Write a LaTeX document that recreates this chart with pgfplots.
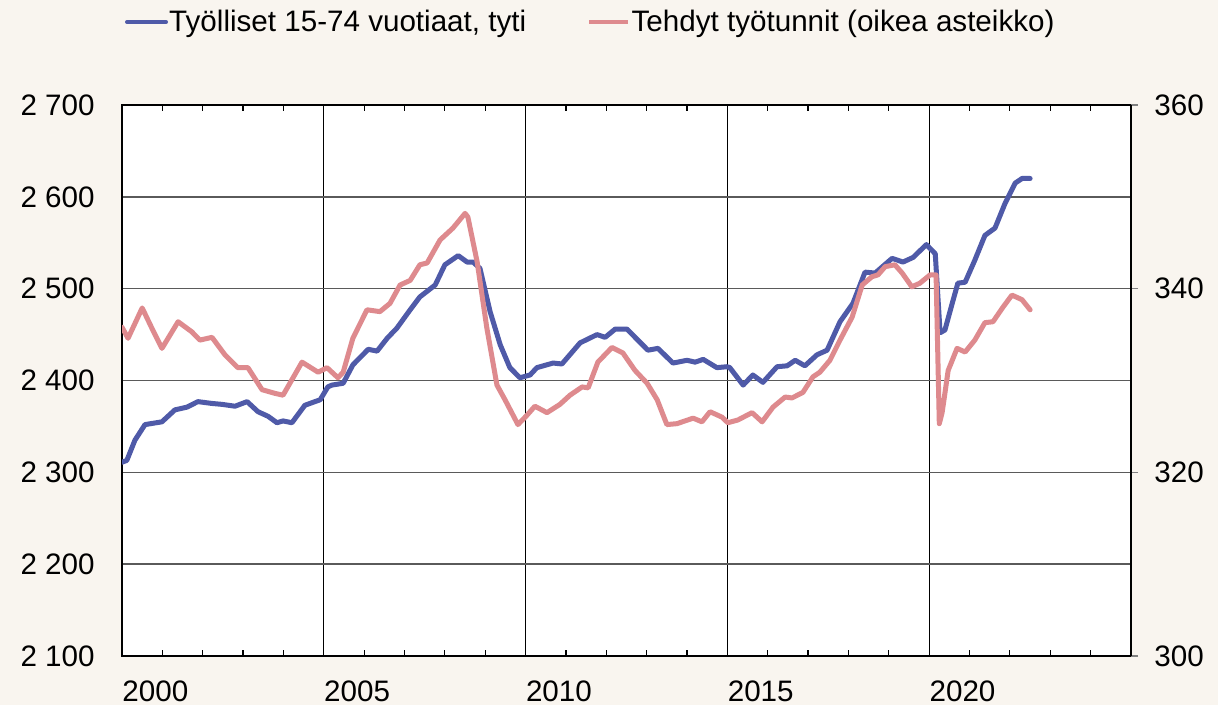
\documentclass[border=0pt]{standalone}
\usepackage{fontspec}
\setmainfont{Liberation Sans}
\usepackage{pgfplots}
\pgfplotsset{compat=1.18}
\definecolor{bgcol}{RGB}{249,245,239}
\definecolor{blueline}{RGB}{79,90,168}
\definecolor{redline}{RGB}{222,138,142}
\definecolor{gridgray}{RGB}{90,90,90}

\pgfplotstableread{
x y
2000.00 2311
2000.12 2313
2000.32 2335
2000.57 2352
2000.99 2355
2001.31 2368
2001.61 2371
2001.88 2377
2002.23 2375
2002.48 2374
2002.80 2372
2003.10 2377
2003.37 2366
2003.62 2361
2003.84 2354
2003.99 2356
2004.21 2354
2004.53 2373
2004.78 2377
2004.91 2379
2005.10 2393
2005.20 2395
2005.48 2397
2005.72 2417
2006.10 2434
2006.32 2432
2006.57 2446
2006.81 2457
2007.14 2477
2007.38 2491
2007.76 2504
2008.00 2526
2008.33 2536
2008.55 2529
2008.70 2529
2008.87 2522
2009.12 2475
2009.37 2439
2009.61 2414
2009.86 2403
2010.11 2406
2010.28 2414
2010.68 2419
2010.90 2418
2011.35 2441
2011.77 2450
2011.97 2447
2012.22 2456
2012.51 2456
2013.03 2433
2013.28 2435
2013.65 2419
2014.00 2422
2014.20 2420
2014.40 2423
2014.74 2414
2014.99 2415
2015.06 2414
2015.39 2395
2015.63 2406
2015.88 2398
2016.23 2415
2016.48 2416
2016.68 2422
2016.92 2416
2017.22 2428
2017.47 2433
2017.79 2464
2018.11 2484
2018.41 2518
2018.66 2517
2019.08 2533
2019.35 2529
2019.60 2534
2019.93 2548
2020.15 2538
2020.27 2452
2020.39 2455
2020.57 2484
2020.71 2506
2020.89 2507
2021.13 2531
2021.38 2558
2021.63 2566
2021.88 2593
2022.13 2615
2022.30 2620
2022.50 2620
}\tyti

\pgfplotstableread{
x y
2000.00 335.8
2000.15 334.6
2000.50 337.9
2000.74 335.7
2000.99 333.5
2001.39 336.4
2001.73 335.3
2001.93 334.4
2002.23 334.7
2002.55 332.8
2002.87 331.4
2003.12 331.4
2003.47 329.0
2003.79 328.6
2003.99 328.4
2004.46 332.0
2004.86 330.9
2005.08 331.4
2005.35 330.3
2005.48 330.9
2005.72 334.6
2006.07 337.7
2006.39 337.5
2006.64 338.4
2006.89 340.4
2007.14 340.9
2007.38 342.6
2007.56 342.8
2007.88 345.3
2008.20 346.6
2008.50 348.2
2008.57 347.8
2008.80 342.9
2009.04 335.7
2009.29 329.5
2009.49 327.9
2009.81 325.2
2010.03 326.2
2010.23 327.2
2010.53 326.5
2010.85 327.4
2011.10 328.4
2011.40 329.3
2011.55 329.2
2011.79 332.0
2012.14 333.6
2012.41 333.0
2012.71 331.1
2013.01 329.7
2013.26 327.9
2013.50 325.2
2013.75 325.3
2014.15 325.9
2014.37 325.5
2014.57 326.6
2014.87 326.0
2015.01 325.4
2015.26 325.7
2015.61 326.5
2015.86 325.5
2016.13 327.1
2016.43 328.2
2016.60 328.1
2016.87 328.7
2017.12 330.4
2017.29 330.9
2017.54 332.2
2017.79 334.4
2018.09 336.9
2018.34 340.4
2018.58 341.3
2018.73 341.5
2018.91 342.4
2019.15 342.6
2019.33 341.7
2019.57 340.2
2019.77 340.6
2020.02 341.5
2020.17 341.5
2020.25 325.3
2020.32 326.5
2020.47 331.1
2020.69 333.5
2020.89 333.1
2021.13 334.4
2021.38 336.3
2021.58 336.4
2021.83 338.0
2022.05 339.3
2022.30 338.8
2022.50 337.7
}\tunnit

\begin{document}
\begin{tikzpicture}[font=\fontsize{14.8}{17.5}\selectfont]
\fill[bgcol] (-61pt,-24.5pt) rectangle (548pt,328pt);
\useasboundingbox (-61pt,-24.5pt) rectangle (548pt,328pt);
\begin{axis}[
  scale only axis, width=504.5pt, height=275.5pt,
  xmin=2000, xmax=2025, ymin=2100, ymax=2700,
  axis background/.style={fill=white},
  xtick={2000,2005,2010,2015,2020},
  xticklabels={2000,2005,2010,2015,2020},
  minor xtick={2001,...,2024},
  xmajorgrids, ymajorgrids,
  x grid style={black, line width=0.5pt},
  y grid style={gridgray, line width=0.75pt},
  tick align=inside, major tick length=3pt, minor tick length=3pt,
  xtick style={black, line width=0.6pt},
  ytick={2100,2200,...,2700},
  yticklabels={2 100,2 200,2 300,2 400,2 500,2 600,2 700},
  ytick style={draw=none},
  xticklabel style={anchor=north west, inner sep=0pt, yshift=-12pt},
  yticklabel style={anchor=east, inner sep=0pt, xshift=-13.5pt},
  axis line style={black, line width=0.9pt},
  legend style={draw=none, fill=none, at={(axis description cs:0.003,1.1506)}, anchor=west,
    legend columns=2, inner sep=0pt, outer sep=0pt,
    nodes={inner sep=0.6pt},
    /tikz/every even column/.append style={column sep=30pt}},
  legend image code/.code={\draw[#1, line width=2pt] (0pt,0pt) -- (19.5pt,0pt);},
  clip=true,
]
\addplot[blueline, line width=2.5pt, line join=round, line cap=round] table[x=x,y=y] {\tyti};
\addlegendentry{Työlliset 15-74 vuotiaat, tyti}
\addlegendimage{redline, line width=2pt}
\addlegendentry{Tehdyt työtunnit (oikea asteikko)}
\node[anchor=base west, inner sep=0pt, xshift=1pt, yshift=4.5pt] at (rel axis cs:0,1) {1000 henkeä};
\node[anchor=base east, inner sep=0pt, xshift=-8pt, yshift=4.5pt] at (rel axis cs:1,1) {100 000 tuntia};
\end{axis}
\begin{axis}[
  scale only axis, width=504.5pt, height=275.5pt,
  xmin=2000, xmax=2025, ymin=300, ymax=360,
  axis x line=none, axis y line*=right,
  y axis line style={-, black, line width=0.9pt},
  ytick={300,320,340,360},
  yticklabels={300,320,340,360},
  tick align=outside, major tick length=3.5pt,
  ytick style={gray, line width=0.6pt},
  yticklabel style={anchor=west, inner sep=0pt, xshift=8pt},
]
\addplot[redline, line width=2.5pt, line join=round, line cap=round] table[x=x,y=y] {\tunnit};
\end{axis}
\end{tikzpicture}
\end{document}
